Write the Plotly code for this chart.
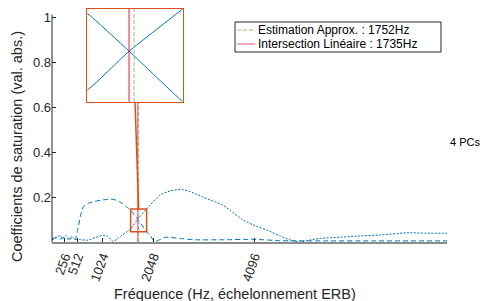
import plotly.graph_objects as go

# ---- data ----
freq_a = [0, 80, 160, 240, 320, 400, 470, 527, 580, 628, 720, 810, 1033, 1235, 1377, 1500,
          1593, 1735, 1917, 1985, 2086, 2289, 2592, 2856, 3500, 4100, 4600, 5500, 6500, 8000]
coef_a = [0.015, 0.02, 0.012, 0.02, 0.013, 0.015, 0.01, 0.06, 0.12, 0.155, 0.17, 0.178, 0.187,
          0.19, 0.178, 0.158, 0.142, 0.101, 0.046, 0.029, 0.002, 0.021, 0.016, 0.01, 0.01,
          0.012, 0.006, 0.005, 0.005, 0.005]

freq_b = [0, 100, 160, 220, 280, 340, 400, 466, 600, 729, 880, 1033, 1130, 1235, 1330, 1420,
          1593, 1735, 1917, 1985, 2187, 2390, 2627, 2856, 3060, 3301, 3450, 3605, 3842, 4071,
          4348, 4618, 4887, 5023, 5225, 5428, 5833, 6238, 6643, 7184, 7656, 8000]
coef_b = [0.01, 0.02, 0.03, 0.015, 0.03, 0.015, 0.025, 0.012, 0.01, 0.008, 0.02, 0.03, 0.025,
          0.003, 0.015, 0.03, 0.0587, 0.101, 0.147, 0.164, 0.209, 0.227, 0.234, 0.219, 0.199,
          0.179, 0.165, 0.142, 0.101, 0.076, 0.053, 0.027, 0.004, 0.0, 0.009, 0.016, 0.021,
          0.027, 0.031, 0.041, 0.039, 0.039]

tick_hz = [256, 512, 1024, 2048, 4096]
y_ticks = [0.2, 0.4, 0.6, 0.8, 1]
f_estimation = 1752
f_intersection = 1735
zoom_x = [1593, 1917]
zoom_y = [0.046, 0.147]
x_max = 8000

label_est = f"Estimation Approx. : {f_estimation}Hz"
label_int = f"Intersection Linéaire : {f_intersection}Hz"

# ---- style ----
BLUE = "#0072BD"
ORANGE = "#D95319"
RED = "rgba(214,40,80,0.55)"
RED_LEG = "rgba(214,40,80,0.8)"
GREEN = "rgba(119,172,48,0.5)"
TXT = "#262626"
FONT = "Liberation Sans, Arial, sans-serif"

W, H = 483, 301
PL, PR, PT, PB = 52, 447, 9, 242      # plot area in pixels
L, T = PL, PT
R, B = W - PR, H - PB
y_top = (PB - PT) / 225.0             # 225 px per unit


def px(wx):
    return (wx - PL) / (PR - PL)


def py(wy):
    return (PB - wy) / (PB - PT)


inset_dom_x = [px(87.3), px(182.7)]
inset_dom_y = [py(101.7), 1.0]
inset_bottom_val = inset_dom_y[0] * y_top

fig = go.Figure()

# main curves
fig.add_trace(go.Scatter(x=freq_a, y=coef_a, mode="lines", showlegend=False,
                         line=dict(color=BLUE, width=1, dash="5px,3px", shape="spline", smoothing=0.5),
                         xaxis="x", yaxis="y", hoverinfo="skip"))
fig.add_trace(go.Scatter(x=freq_b, y=coef_b, mode="lines", showlegend=False,
                         line=dict(color=BLUE, width=1, dash="2px,1.5px", shape="spline", smoothing=0.5),
                         xaxis="x", yaxis="y", hoverinfo="skip"))

# vertical markers (main), below the inset
fig.add_trace(go.Scatter(x=[f_estimation, f_estimation], y=[0, inset_bottom_val], mode="lines",
                         name=label_est, showlegend=False,
                         line=dict(color=GREEN, width=1.5, dash="4px,2px"), xaxis="x", yaxis="y"))
fig.add_trace(go.Scatter(x=[f_intersection, f_intersection], y=[0, inset_bottom_val], mode="lines",
                         name=label_int, showlegend=False,
                         line=dict(color=RED, width=1.5), xaxis="x", yaxis="y"))

# inset curves
fig.add_trace(go.Scatter(x=freq_a, y=coef_a, mode="lines", showlegend=False,
                         line=dict(color=BLUE, width=1, shape="spline", smoothing=0.5),
                         xaxis="x2", yaxis="y2", hoverinfo="skip"))
fig.add_trace(go.Scatter(x=freq_b, y=coef_b, mode="lines", showlegend=False,
                         line=dict(color=BLUE, width=1, shape="spline", smoothing=0.5),
                         xaxis="x2", yaxis="y2", hoverinfo="skip"))
fig.add_trace(go.Scatter(x=[f_intersection, f_intersection], y=[0, 1], mode="lines", showlegend=False,
                         line=dict(color=RED, width=2), xaxis="x2", yaxis="y2"))
fig.add_trace(go.Scatter(x=[f_estimation, f_estimation], y=[0, 1], mode="lines", showlegend=False,
                         line=dict(color=GREEN, width=1.5, dash="4px,2px"), xaxis="x2", yaxis="y2"))

# zoom box and connector
fig.add_shape(type="rect", xref="x", yref="y", x0=zoom_x[0], x1=zoom_x[1], y0=zoom_y[0], y1=zoom_y[1],
              line=dict(color=ORANGE, width=1.5))
fig.add_shape(type="line", xref="x", yref="y",
              x0=(zoom_x[0] + zoom_x[1]) / 2, y0=zoom_y[1],
              x1=x_max * (inset_dom_x[0] + inset_dom_x[1]) / 2, y1=inset_bottom_val,
              line=dict(color=ORANGE, width=1.5))
# y axis line up to just above 1
fig.add_shape(type="line", xref="paper", yref="y", x0=0, x1=0, y0=0, y1=1.01,
              line=dict(color=TXT, width=1))

# legend (drawn box)
fig.add_shape(type="rect", xref="paper", yref="paper", x0=px(235), x1=px(441), y0=py(52), y1=py(22),
              line=dict(color=TXT, width=1), fillcolor="white", layer="above")
fig.add_shape(type="line", xref="paper", yref="paper", x0=px(237), x1=px(255.5), y0=py(30), y1=py(30),
              line=dict(color=GREEN, width=1.5, dash="4px,2px"), layer="above")
fig.add_shape(type="line", xref="paper", yref="paper", x0=px(237), x1=px(255.5), y0=py(44), y1=py(44),
              line=dict(color=RED_LEG, width=1), layer="above")

annotations = [
    dict(text=label_est, xref="paper", yref="paper", x=px(256), y=py(30), showarrow=False,
         font=dict(size=12, color="black"), xanchor="left", yanchor="middle"),
    dict(text=label_int, xref="paper", yref="paper", x=px(256), y=py(44.5), showarrow=False,
         font=dict(size=12, color="black"), xanchor="left", yanchor="middle"),
    dict(text="Fréquence (Hz, échelonnement ERB)", xref="paper", yref="paper",
         x=px(235), y=py(293.5), showarrow=False, font=dict(size=14.5, color=TXT),
         xanchor="center", yanchor="middle"),
    dict(text="Coefficients de saturation (val. abs.)", xref="paper", yref="paper",
         x=px(17), y=py(147), showarrow=False, textangle=-90, font=dict(size=14.5, color=TXT),
         xanchor="center", yanchor="middle"),
    dict(text="4 PCs", xref="paper", yref="paper", x=px(465), y=py(142), showarrow=False,
         font=dict(size=11, color="black"), xanchor="center", yanchor="middle"),
]

fig.update_layout(
    width=W, height=H, margin=dict(l=L, r=R, t=T, b=B, autoexpand=False),
    paper_bgcolor="white", plot_bgcolor="white",
    font=dict(family=FONT, color=TXT, size=13),
    xaxis=dict(range=[0, x_max], domain=[0, 1], tickvals=tick_hz, ticktext=[str(v) for v in tick_hz],
               tickangle=-70, ticks="inside", ticklen=4, tickcolor=TXT, tickfont=dict(size=13),
               showline=True, linecolor="#8c8c8c", linewidth=2, showgrid=False, zeroline=False),
    yaxis=dict(range=[0, y_top], domain=[0, 1], tickvals=y_ticks, ticktext=["0.2", "0.4", "0.6", "0.8", "1"],
               ticks="inside", ticklen=4, tickcolor=TXT, tickfont=dict(size=13),
               showline=False, showgrid=False, zeroline=False),
    xaxis2=dict(domain=inset_dom_x, anchor="y2", range=zoom_x, showticklabels=False, ticks="",
                showline=True, mirror=True, linecolor=ORANGE, linewidth=1.5, showgrid=False, zeroline=False),
    yaxis2=dict(domain=inset_dom_y, anchor="x2", range=zoom_y, showticklabels=False, ticks="",
                showline=True, mirror=True, linecolor=ORANGE, linewidth=1.5, showgrid=False, zeroline=False),
    showlegend=False,
    annotations=annotations,
)

fig.write_html("out.html",
               config={"displayModeBar": False, "staticPlot": True},
               post_script="document.body.style.margin='0px';document.body.style.overflow='hidden';")
